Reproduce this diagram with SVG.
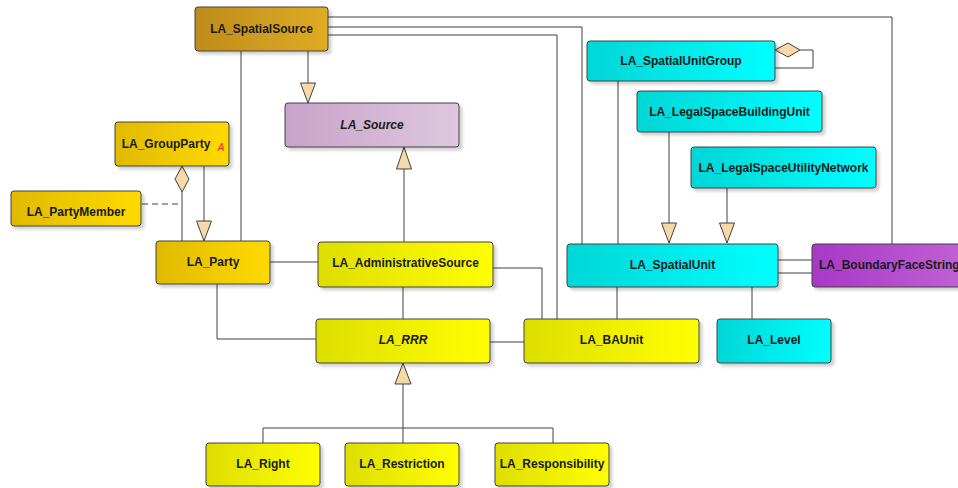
<svg xmlns="http://www.w3.org/2000/svg" width="958" height="488" viewBox="0 0 958 488">
<defs>
<linearGradient id="gSS" x1="0" x2="1" y1="0" y2="0"><stop offset="0" stop-color="#BE8C1E"/><stop offset="1" stop-color="#DFAC22"/></linearGradient>
<linearGradient id="gGold" x1="0" x2="1" y1="0" y2="0"><stop offset="0" stop-color="#E0BA00"/><stop offset="1" stop-color="#FFDA00"/></linearGradient>
<linearGradient id="gYel" x1="0" x2="1" y1="0" y2="0"><stop offset="0" stop-color="#DEDE00"/><stop offset="1" stop-color="#FFFF00"/></linearGradient>
<linearGradient id="gCyan" x1="0" x2="1" y1="0" y2="0"><stop offset="0" stop-color="#00D6D6"/><stop offset="1" stop-color="#00FFFF"/></linearGradient>
<linearGradient id="gSrc" x1="0" x2="1" y1="0" y2="0"><stop offset="0" stop-color="#C9A2CA"/><stop offset="1" stop-color="#DEC8DE"/></linearGradient>
<linearGradient id="gPur" x1="0" x2="1" y1="0" y2="0"><stop offset="0" stop-color="#A838C6"/><stop offset="1" stop-color="#C468D8"/></linearGradient>
<filter id="sh" x="-10%" y="-10%" width="130%" height="150%"><feDropShadow dx="3" dy="3" stdDeviation="1.5" flood-color="#000" flood-opacity="0.18"/></filter>
</defs>
<style>
.box{stroke:#404040;stroke-width:1;filter:url(#sh)}
.t{font-family:"Liberation Sans",Arial,sans-serif;font-weight:bold;font-size:12px;fill:#1a1a1a;text-anchor:middle;dominant-baseline:central}
.it{font-style:italic}
.c{fill:none;stroke:#404040;stroke-width:1}
.dash{stroke-dasharray:6,4}
.tri{fill:#F5D9A8;stroke:#404040;stroke-width:1}
</style>
<g id="connectors">
<polyline class="c" points="328,17 892,17 892,244"/>
<polyline class="c" points="328,27 582,27 582,244"/>
<polyline class="c" points="328,35 557,35 557,319"/>
<line class="c" x1="618" y1="81" x2="618" y2="244"/>
<polyline class="c" points="800,50 813,50 813,68 775,68"/>
<polygon class="tri" points="775,50 788,43 800,50 788,57"/>
<line class="c" x1="669" y1="132" x2="669" y2="223"/>
<polygon class="tri" points="661.5,223 676.5,223 669,243"/>
<line class="c" x1="727" y1="188" x2="727" y2="223"/>
<polygon class="tri" points="719.5,223 734.5,223 727,243"/>
<line class="c" x1="778" y1="260" x2="812" y2="260"/>
<line class="c" x1="778" y1="273" x2="812" y2="273"/>
<line class="c" x1="617" y1="287" x2="617" y2="319"/>
<line class="c" x1="752" y1="287" x2="752" y2="319"/>
<polyline class="c" points="493,268 542,268 542,319"/>
<line class="c" x1="490" y1="342" x2="524" y2="342"/>
<polyline class="c" points="217,284 217,339 316,339"/>
<line class="c" x1="403" y1="287" x2="403" y2="319"/>
<line class="c" x1="403" y1="384" x2="403" y2="443"/>
<polyline class="c" points="263,443 263,428 553,428 553,443"/>
<polygon class="tri" points="395,384 411,384 403,363"/>
<line class="c" x1="308" y1="51" x2="308" y2="83"/>
<polygon class="tri" points="300.5,83 315.5,83 308,103"/>
<line class="c" x1="241" y1="51" x2="241" y2="241"/>
<line class="c" x1="404" y1="169" x2="404" y2="242"/>
<polygon class="tri" points="396.5,169 411.5,169 404,147"/>
<polygon class="tri" points="182,166 189,179 182,192 175,179"/>
<line class="c" x1="182" y1="192" x2="182" y2="241"/>
<line class="c dash" x1="142" y1="204" x2="182" y2="204"/>
<line class="c" x1="204" y1="166" x2="204" y2="221"/>
<polygon class="tri" points="196.5,221 211.5,221 204,241"/>
<line class="c" x1="270" y1="262" x2="318" y2="262"/>
</g>
<g id="LA_SpatialSource"><rect class="box" x="195" y="7" width="133" height="44" rx="3" fill="url(#gSS)"/><text class="t" x="261.5" y="29">LA_SpatialSource</text></g>
<g id="LA_Source"><rect class="box" x="285" y="103" width="174" height="44" rx="3" fill="url(#gSrc)"/><text class="t it" x="372" y="125">LA_Source</text></g>
<g id="LA_GroupParty"><rect class="box" x="115" y="122" width="114" height="44" rx="3" fill="url(#gGold)"/><text class="t" x="166" y="144">LA_GroupParty</text><text x="221" y="151" font-family="Liberation Sans,Arial,sans-serif" font-size="10" font-style="italic" fill="#FF2020" text-anchor="middle">A</text></g>
<g id="LA_PartyMember"><rect class="box" x="11" y="191" width="130" height="35" rx="3" fill="url(#gGold)"/><text class="t" x="76" y="212">LA_PartyMember</text></g>
<g id="LA_Party"><rect class="box" x="156" y="241" width="114" height="43" rx="3" fill="url(#gGold)"/><text class="t" x="213" y="262">LA_Party</text></g>
<g id="LA_AdministrativeSource"><rect class="box" x="318" y="242" width="175" height="45" rx="3" fill="url(#gYel)"/><text class="t" x="405.5" y="263">LA_AdministrativeSource</text></g>
<g id="LA_RRR"><rect class="box" x="316" y="319" width="174" height="44" rx="3" fill="url(#gYel)"/><text class="t it" x="403" y="340">LA_RRR</text></g>
<g id="LA_BAUnit"><rect class="box" x="524" y="319" width="175" height="44" rx="3" fill="url(#gYel)"/><text class="t" x="611.5" y="340">LA_BAUnit</text></g>
<g id="LA_Right"><rect class="box" x="206" y="443" width="114" height="43" rx="3" fill="url(#gYel)"/><text class="t" x="263" y="464">LA_Right</text></g>
<g id="LA_Restriction"><rect class="box" x="345" y="443" width="114" height="43" rx="3" fill="url(#gYel)"/><text class="t" x="402" y="464">LA_Restriction</text></g>
<g id="LA_Responsibility"><rect class="box" x="495" y="443" width="114" height="43" rx="3" fill="url(#gYel)"/><text class="t" x="552" y="464">LA_Responsibility</text></g>
<g id="LA_SpatialUnitGroup"><rect class="box" x="587" y="41" width="188" height="40" rx="3" fill="url(#gCyan)"/><text class="t" x="681" y="61">LA_SpatialUnitGroup</text></g>
<g id="LA_LegalSpaceBuildingUnit"><rect class="box" x="637" y="91" width="185" height="41" rx="3" fill="url(#gCyan)"/><text class="t" x="729.5" y="112">LA_LegalSpaceBuildingUnit</text></g>
<g id="LA_LegalSpaceUtilityNetwork"><rect class="box" x="691" y="147" width="185" height="41" rx="3" fill="url(#gCyan)"/><text class="t" x="783.5" y="168">LA_LegalSpaceUtilityNetwork</text></g>
<g id="LA_SpatialUnit"><rect class="box" x="567" y="244" width="211" height="43" rx="3" fill="url(#gCyan)"/><text class="t" x="672.5" y="265">LA_SpatialUnit</text></g>
<g id="LA_Level"><rect class="box" x="717" y="319" width="114" height="44" rx="3" fill="url(#gCyan)"/><text class="t" x="774" y="340">LA_Level</text></g>
<g id="LA_BoundaryFaceString"><rect class="box" x="812" y="244" width="180" height="43" rx="3" fill="url(#gPur)"/><text class="t" x="819" y="265" text-anchor="start" style="text-anchor:start">LA_BoundaryFaceString</text></g>
</svg>
